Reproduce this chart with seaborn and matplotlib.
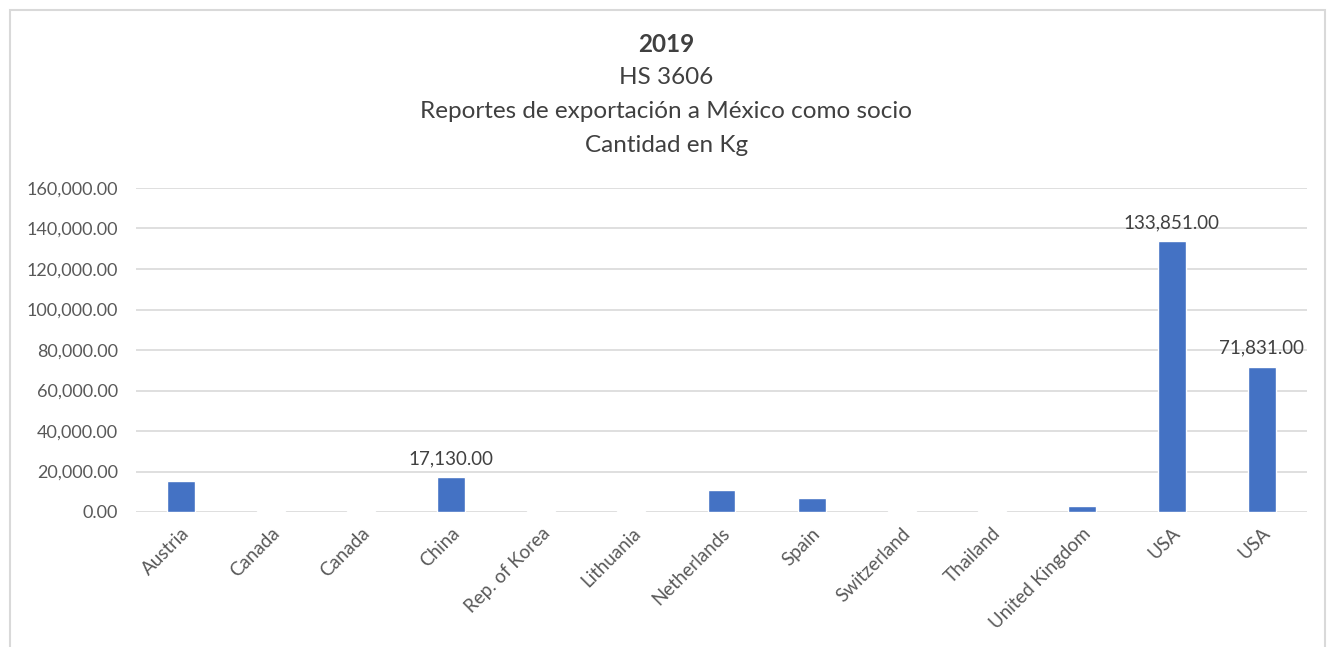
import matplotlib
matplotlib.use("Agg")
import matplotlib.pyplot as plt
from matplotlib.patches import Rectangle
from matplotlib.ticker import FuncFormatter
import seaborn as sns
import pandas as pd

# Export reports to Mexico as partner, HS 3606, 2019 (kg)
countries = ["Austria", "Canada", "Canada", "China", "Rep. of Korea", "Lithuania",
             "Netherlands", "Spain", "Switzerland", "Thailand", "United Kingdom",
             "USA", "USA"]
quantity_kg = [15300, 300, 300, 17130, 300, 300, 10800, 6800, 300, 300, 3100,
               133851, 71831]
labelled = {3: "17,130.00", 11: "133,851.00", 12: "71,831.00"}

title_lines = ["HS 3606", "Reportes de exportación a México como socio", "Cantidad en Kg"]

sns.set_theme(style="white")
plt.rcParams["font.family"] = ["Lato", "DejaVu Sans"]

df = pd.DataFrame({"pos": range(len(countries)), "country": countries, "kg": quantity_kg})

fig = plt.figure(figsize=(13.33, 6.47), dpi=100)
ax = fig.add_axes([136 / 1333, 1 - 512 / 647, (1307 - 136) / 1333, (512 - 188) / 647])

sns.barplot(data=df, x="pos", y="kg", color="#4472C4", saturation=1, width=0.31,
            ax=ax, order=list(range(len(countries))))

ax.set_ylim(0, 160000)
ax.set_yticks(range(0, 160001, 20000))
ax.yaxis.set_major_formatter(FuncFormatter(lambda v, p: f"{v:,.2f}"))
ax.grid(axis="y", color="#d9d9d9", linewidth=1.2)
ax.set_axisbelow(True)
for s in ax.spines.values():
    s.set_visible(False)
ax.tick_params(axis="both", length=0, colors="#595959")
ax.tick_params(axis="y", pad=13, labelsize=13)
ax.set_xticks(range(len(countries)))
ax.set_xticklabels(countries, rotation=45, ha="right", rotation_mode="anchor")
ax.tick_params(axis="x", pad=9, labelsize=13.5)
ax.set_xlabel("")
ax.set_ylabel("")

for i, txt in labelled.items():
    ax.annotate(txt, (i, quantity_kg[i]), xytext=(0, 7), textcoords="offset points",
                ha="center", va="bottom", fontsize=13.5, color="#404040")

fig.text(0.5, 1 - 45 / 647, "2019", ha="center", va="center", fontsize=17.5,
         fontweight="bold", color="#404040")
for y, line in zip([77, 111, 145], title_lines):
    fig.text(0.5, 1 - y / 647, line, ha="center", va="center", fontsize=17.5,
             color="#404040")

fig.patches.append(Rectangle((10 / 1333, -0.05), 1315 / 1333, 1.05 - 10 / 647,
                             transform=fig.transFigure, fill=False,
                             edgecolor="#d9d9d9", linewidth=1.5))

fig.savefig("out.png", dpi=100)
